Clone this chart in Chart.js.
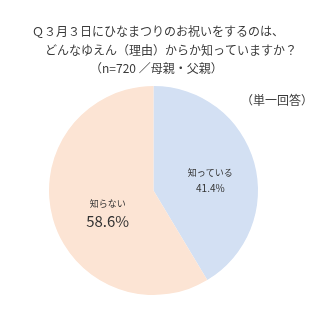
<!DOCTYPE html>
<html>
<head>
<meta charset="utf-8">
<script src="https://cdn.jsdelivr.net/npm/chart.js@4"></script>
<style>
  html, body { margin: 0; padding: 0; background: #ffffff; }
  #wrap { width: 320px; height: 320px; }
</style>
</head>
<body>
<div id="wrap"><canvas id="grafica"></canvas></div>
<script>
// datos del gráfico
const categorias = ['知っている', '知らない'];
const porcentajes = [41.4, 58.6];
const colores = ['#D3E0F3', '#FCE4D4'];
const titulo = [
    'Ｑ３月３日にひなまつりのお祝いをするのは、',
    'どんなゆえん（理由）からか知っていますか？',
    '（n=720 ／母親・父親）'
];
const nota = '（単一回答）';

const fuente = '"Noto Sans CJK JP", "Noto Sans", sans-serif';

// textos del título y etiquetas de cada porción
const textosPlugin = {
    id: 'textos',
    afterDraw(chart) {
        const ctx = chart.ctx;
        ctx.save();
        ctx.fillStyle = '#3a3a3a';
        ctx.textBaseline = 'middle';
        ctx.textAlign = 'left';
        ctx.font = '12px ' + fuente;
        const xs = [32, 45, 90];
        const ys = [31, 50, 68];
        titulo.forEach((t, i) => ctx.fillText(t, xs[i], ys[i]));
        ctx.textAlign = 'right';
        ctx.fillText(nota, 313, 100);

        const meta = chart.getDatasetMeta(0);
        meta.data.forEach((arco, i) => {
            const p = arco.tooltipPosition();
            const dx = p.x - arco.x, dy = p.y - arco.y;
            const x = arco.x + dx * 1.05, y = arco.y + dy * 1.05;
            ctx.textAlign = 'center';
            ctx.fillStyle = '#333333';
            const grande = i === 1;
            ctx.font = '9px ' + fuente;
            ctx.fillText(categorias[i], x + (grande ? 7 : 4), y + (grande ? -2 : -3));
            ctx.font = (grande ? '15px ' : '10px ') + fuente;
            ctx.fillText(porcentajes[i].toFixed(1) + '%', x + (grande ? 7 : 4), y + (grande ? 16 : 12));
        });
        ctx.restore();
    }
};

const ctx = document.getElementById('grafica').getContext('2d');
new Chart(ctx, {
    type: 'pie',
    data: {
        labels: categorias,
        datasets: [{
            data: porcentajes,
            backgroundColor: colores,
            borderWidth: 0
        }]
    },
    options: {
        responsive: true,
        maintainAspectRatio: false,
        animation: false,
        layout: {
            padding: { top: 86, bottom: 25, left: 49, right: 62 }
        },
        plugins: {
            legend: { display: false },
            tooltip: { enabled: false },
            title: { display: false }
        }
    },
    plugins: [textosPlugin]
});
</script>
</body>
</html>
